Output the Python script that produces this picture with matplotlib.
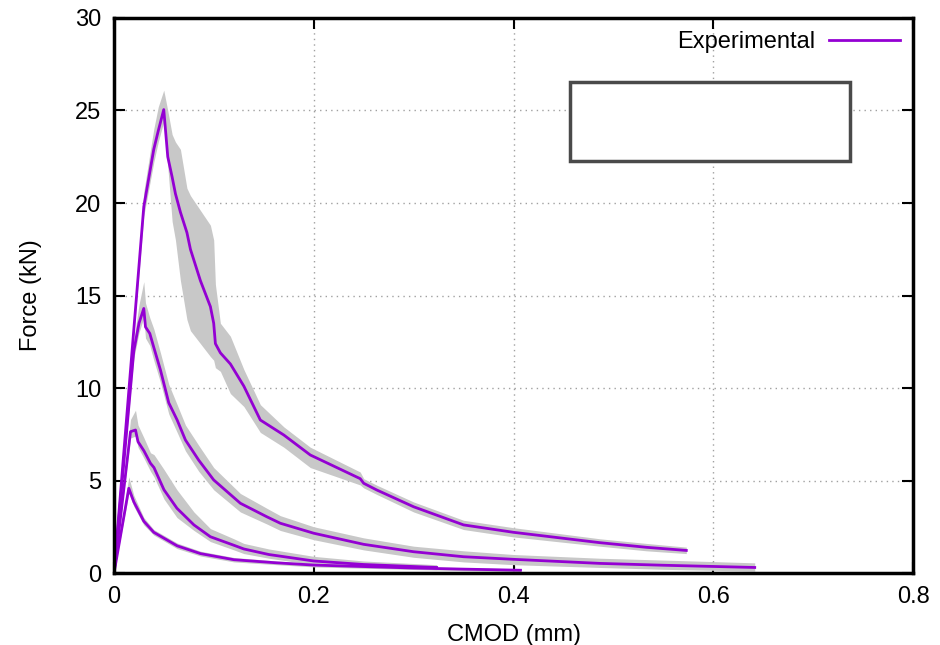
import numpy as np
import matplotlib
matplotlib.use('Agg')
import matplotlib.pyplot as plt
from matplotlib.patches import Rectangle

plt.rcParams['font.family'] = ['Liberation Sans', 'DejaVu Sans']

# curve A (peak ~25 kN)
a_x = [0, 0.0298, 0.0398, 0.0443, 0.0498, 0.0538, 0.0582, 0.0615, 0.0665, 0.073, 0.0765, 0.0865,
       0.0965, 0.0998, 0.1015, 0.1065, 0.1165, 0.13, 0.1465, 0.17, 0.1965, 0.2465, 0.25, 0.263,
       0.3, 0.35, 0.4, 0.4865, 0.533, 0.573]
a_y = [0, 19.8, 22.9, 23.9, 25.05, 22.5, 21.4, 20.5, 19.5, 18.4, 17.5, 15.8, 14.4, 13.5, 12.4, 11.9,
       11.3, 10.1, 8.27, 7.46, 6.38, 5.1, 4.85, 4.49, 3.58, 2.6, 2.2, 1.64, 1.39, 1.22]
a_lo = [0, 19.3, 22.2, 23.3, 24.4, 22.0, 19.0, 18.0, 15.8, 13.7, 13.1, 12.4, 11.7, 11.5, 11.1, 10.9,
        9.7, 9.0, 7.6, 6.8, 5.7, 4.76, 4.6, 4.25, 3.3, 2.35, 1.95, 1.45, 1.2, 1.05]
a_hi = [0, 20.6, 24.0, 25.2, 26.1, 25.0, 23.7, 23.3, 22.9, 20.8, 20.4, 19.6, 18.8, 18.0, 15.6, 13.5,
        12.8, 11.0, 9.1, 7.9, 6.8, 5.46, 5.1, 4.75, 3.84, 2.85, 2.45, 1.85, 1.6, 1.4]

# curve B (peak ~14 kN)
b_x = [0, 0.0198, 0.025, 0.0298, 0.0315, 0.0358, 0.0398, 0.0465, 0.0548, 0.0632, 0.0715, 0.0848,
       0.0998, 0.1265, 0.153, 0.1665, 0.2, 0.25, 0.3, 0.35, 0.4, 0.4865, 0.55, 0.6415]
b_y = [0, 12.0, 13.5, 14.3, 13.3, 12.95, 12.2, 10.97, 9.2, 8.27, 7.19, 6.1, 5.03, 3.77, 3.04, 2.69,
       2.15, 1.55, 1.15, 0.88, 0.74, 0.52, 0.42, 0.3]
b_lo = [0, 11.6, 13.0, 13.8, 12.7, 12.3, 11.5, 10.3, 8.6, 7.6, 6.6, 5.5, 4.5, 3.3, 2.65, 2.3, 1.8,
        1.25, 0.85, 0.6, 0.45, 0.3, 0.2, 0.1]
b_hi = [0, 12.6, 14.5, 15.75, 14.6, 13.8, 13.2, 11.9, 10.2, 9.1, 8.0, 6.9, 5.7, 4.3, 3.5, 3.1, 2.5,
        1.9, 1.45, 1.2, 1.0, 0.8, 0.7, 0.55]

# curve C (peak ~7.7 kN)
c_x = [0, 0.0165, 0.0215, 0.024, 0.03, 0.0365, 0.04, 0.05, 0.063, 0.08, 0.0965, 0.12, 0.13, 0.155,
       0.2, 0.25, 0.323]
c_y = [0, 7.64, 7.73, 7.1, 6.6, 5.93, 5.7, 4.5, 3.5, 2.6, 1.96, 1.5, 1.3, 1.0, 0.65, 0.46, 0.3]
c_lo = [0, 7.3, 7.4, 6.8, 6.2, 5.5, 5.2, 4.0, 3.0, 2.3, 1.7, 1.25, 1.05, 0.8, 0.45, 0.3, 0.18]
c_hi = [0, 8.3, 8.8, 8.0, 7.3, 6.5, 6.4, 5.6, 4.5, 3.3, 2.4, 1.85, 1.6, 1.3, 0.9, 0.65, 0.45]

# curve D (peak ~4.6 kN)
d_x = [0, 0.0148, 0.0198, 0.0298, 0.0398, 0.0632, 0.0865, 0.12, 0.163, 0.2, 0.25, 0.3, 0.35, 0.407]
d_y = [0, 4.58, 3.85, 2.8, 2.2, 1.47, 1.05, 0.72, 0.55, 0.43, 0.35, 0.27, 0.21, 0.15]
d_lo = [0, 4.3, 3.6, 2.6, 2.05, 1.32, 0.92, 0.6, 0.45, 0.33, 0.26, 0.19, 0.13, 0.08]
d_hi = [0, 5.2, 4.2, 3.0, 2.35, 1.62, 1.18, 0.84, 0.65, 0.53, 0.44, 0.35, 0.29, 0.22]

curves = [(a_x, a_y, a_lo, a_hi), (b_x, b_y, b_lo, b_hi),
          (c_x, c_y, c_lo, c_hi), (d_x, d_y, d_lo, d_hi)]

fig = plt.figure(figsize=(9.4, 6.45), dpi=100)
ax = fig.add_axes([0.1213, 0.1116, 0.8500, 0.8605])

# bands first
for x, y, lo, hi in curves:
    ax.fill_between(x, lo, hi, color='#c8c8c8', lw=0, zorder=2)
# mean lines
for i, (x, y, lo, hi) in enumerate(curves):
    ax.plot(x, y, color='#9400d3', lw=2.0, zorder=3,
            label='Experimental' if i == 0 else None)

ax.set_xlim(0, 0.8)
ax.set_ylim(0, 30)
ax.set_xticks([0, 0.2, 0.4, 0.6, 0.8])
ax.set_xticklabels(['0', '0.2', '0.4', '0.6', '0.8'])
ax.set_yticks(range(0, 31, 5))
ax.grid(True, color='#a0a0a0', ls=(0, (1, 3)), lw=1.0, zorder=1)
ax.set_axisbelow(True)
ax.tick_params(direction='in', length=8, width=1.5, top=True, right=True,
               labelsize=17, pad=9)
for s in ax.spines.values():
    s.set_linewidth(2.5)
    s.set_zorder(5)

ax.set_xlabel('CMOD (mm)', fontsize=17, labelpad=12)
ax.set_ylabel('Force (kN)', fontsize=17, labelpad=24)

# empty key box
box = Rectangle((0.571, 0.742), 0.35, 0.143, transform=ax.transAxes,
                facecolor='white', edgecolor='#4a4a4a', lw=2.5, zorder=4)
ax.add_patch(box)

ax.legend(loc='upper right', frameon=False, markerfirst=False, fontsize=17,
          handlelength=3.0, borderaxespad=0.15, handletextpad=0.6)

fig.savefig('out.png', dpi=100)
